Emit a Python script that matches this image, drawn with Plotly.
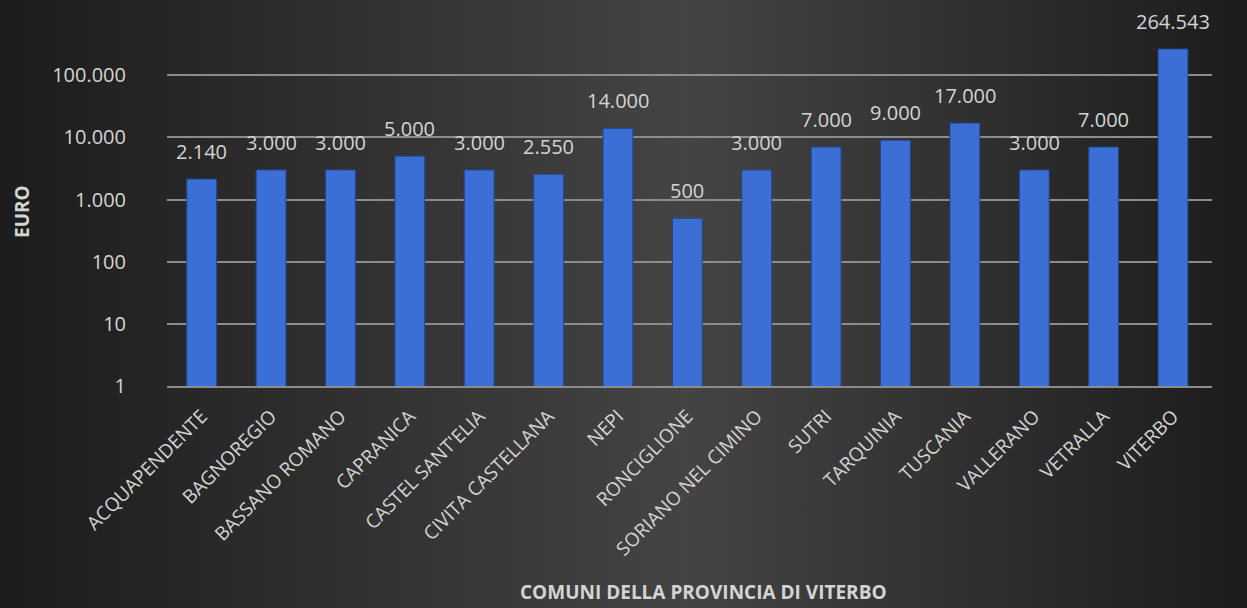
import math
import plotly.graph_objects as go

comuni = ["ACQUAPENDENTE", "BAGNOREGIO", "BASSANO ROMANO", "CAPRANICA", "CASTEL SANT'ELIA",
          "CIVITA CASTELLANA", "NEPI", "RONCIGLIONE", "SORIANO NEL CIMINO", "SUTRI",
          "TARQUINIA", "TUSCANIA", "VALLERANO", "VETRALLA", "VITERBO"]
euro = [2140, 3000, 3000, 5000, 3000, 2550, 14000, 500, 3000, 7000, 9000, 17000, 3000, 7000, 264543]
euro_labels = ["2.140", "3.000", "3.000", "5.000", "3.000", "2.550", "14.000", "500", "3.000",
               "7.000", "9.000", "17.000", "3.000", "7.000", "264.543"]
tick_vals = [1, 10, 100, 1000, 10000, 100000]
tick_text = ["1", "10", "100", "1.000", "10.000", "100.000"]

FONT = "Open Sans"
TXT = "#d4d4d4"
GRID = "#8c8c8c"
W, H = 1247, 608

fig = go.Figure()

# background gradient (on full-paper axes, drawn first)
fig.add_trace(go.Scatter(
    x=[0, 1, 1, 0, 0], y=[0, 0, 1, 1, 0], mode="lines", fill="toself",
    line=dict(width=0), hoverinfo="skip", showlegend=False,
    fillgradient=dict(type="horizontal",
                      colorscale=[[0, "#1c1c1c"], [0.55, "#444444"], [1, "#1c1c1c"]]),
    xaxis="x", yaxis="y"))

fig.add_trace(go.Bar(
    x=comuni, y=euro, xaxis="x2", yaxis="y2",
    marker=dict(color="#3b6fd6", line=dict(color="#24468f", width=1)),
    showlegend=False))

annotations = [
    dict(x=c, y=math.log10(v), xref="x2", yref="y2", text=t, showarrow=False,
         yanchor="bottom", yshift=12, font=dict(family=FONT, size=20, color=TXT))
    for c, v, t in zip(comuni, euro, euro_labels)
]
annotations += [
    dict(text="<b>EURO</b>", x=22/W, y=1 - 212/H, xref="paper", yref="paper",
         xanchor="center", yanchor="middle",
         showarrow=False, textangle=-90, font=dict(family=FONT, size=19, color=TXT)),
    dict(text="<b>COMUNI DELLA PROVINCIA DI VITERBO</b>", x=703/W, y=1 - 592/H,
         xref="paper", yref="paper", xanchor="center", yanchor="middle", showarrow=False,
         font=dict(family=FONT, size=19, color=TXT)),
]

fig.update_layout(
    width=W, height=H,
    margin=dict(l=0, r=0, t=0, b=0, autoexpand=False),
    paper_bgcolor="#2b2b2b", plot_bgcolor="rgba(0,0,0,0)",
    bargap=0.57,
    xaxis=dict(domain=[0, 1], range=[0, 1], visible=False, fixedrange=True, automargin=False),
    yaxis=dict(domain=[0, 1], range=[0, 1], visible=False, fixedrange=True, automargin=False),
    xaxis2=dict(domain=[167/W, 1212/W], anchor="y2", automargin=False,
                tickangle=-45, tickfont=dict(family=FONT, size=19, color=TXT),
                showgrid=False, showline=True, linecolor=GRID, linewidth=1.5,
                ticks="", ticklen=0, ticklabelstandoff=10),
    yaxis2=dict(domain=[222/H, 1 - 38/H], anchor="x2", type="log", range=[0, 5.6],
                automargin=False,
                tickvals=tick_vals, ticktext=tick_text,
                tickfont=dict(family=FONT, size=20, color=TXT),
                showgrid=True, gridcolor=GRID, gridwidth=1.5, zeroline=False,
                showline=False, ticks="", ticklabelstandoff=40),
    annotations=annotations,
)

fig.write_html("out.html", config={"displayModeBar": False},
               post_script="document.body.style.margin='0';")
